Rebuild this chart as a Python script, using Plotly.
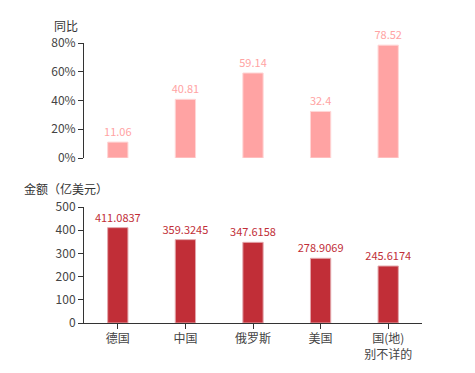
import plotly.graph_objects as go

categories = ["德国", "中国", "俄罗斯", "美国", "国(地)<br>别不详的"]
yoy_pct = [11.06, 40.81, 59.14, 32.4, 78.52]
amount = [411.0837, 359.3245, 347.6158, 278.9069, 245.6174]
yoy_ticks = [0, 20, 40, 60, 80]
amt_ticks = [0, 100, 200, 300, 400, 500]

W, H = 475, 373
font = "Noto Sans CJK SC, Microsoft YaHei, sans-serif"

def py(p):
    return 1 - p / H

fig = go.Figure()
fig.add_trace(go.Bar(
    x=categories, y=yoy_pct, xaxis="x2", yaxis="y2", width=0.3,
    marker=dict(color="#ffa3a3", line=dict(color="#ffd6d6", width=1)),
    text=[f"{v:g}" for v in yoy_pct], textposition="outside", cliponaxis=False,
    constraintext="none",
    textfont=dict(color="#ffa3a3", size=11, family=font),
    hoverinfo="skip",
))
fig.add_trace(go.Bar(
    x=categories, y=amount, xaxis="x", yaxis="y", width=0.3,
    marker=dict(color="#c12e37", line=dict(color="#e3a6ab", width=1)),
    text=[f"{v:.4f}" for v in amount], textposition="outside", cliponaxis=False,
    constraintext="none",
    textfont=dict(color="#c12e37", size=11, family=font),
    hoverinfo="skip",
))

xdom = [84 / W, 422 / W]
axis_common = dict(showgrid=False, zeroline=False, linecolor="#333", linewidth=1,
                   tickfont=dict(color="#444", size=12, family=font),
                   ticks="outside", ticklen=5, tickcolor="#333", automargin=False)
fig.update_layout(
    width=W, height=H, margin=dict(l=0, r=0, t=0, b=0),
    paper_bgcolor="white", plot_bgcolor="white", showlegend=False,
    font=dict(family=font),
    uniformtext=dict(mode=False),
    xaxis=dict(domain=xdom, anchor="y", showline=True, **axis_common),
    yaxis=dict(domain=[py(323), py(207)], range=[0, 500], tickvals=amt_ticks,
               anchor="x", showline=True, **axis_common),
    xaxis2=dict(domain=xdom, anchor="y2", showline=False, showticklabels=False,
                ticks="", showgrid=False, zeroline=False, automargin=False),
    yaxis2=dict(domain=[py(158), py(43)], range=[0, 80], tickvals=yoy_ticks,
                ticktext=[f"{v}%" for v in yoy_ticks], tickmode="array",
                anchor="x2", showline=True, **axis_common),
    annotations=[
        dict(text="同比", x=52 / W, y=py(25), xref="paper", yref="paper",
             xanchor="left", yanchor="middle", showarrow=False,
             font=dict(color="#333", size=12, family=font)),
        dict(text="金额（亿美元）", x=22 / W, y=py(188), xref="paper", yref="paper",
             xanchor="left", yanchor="middle", showarrow=False,
             font=dict(color="#333", size=12, family=font)),
    ],
)
fig.write_html("out.html")
